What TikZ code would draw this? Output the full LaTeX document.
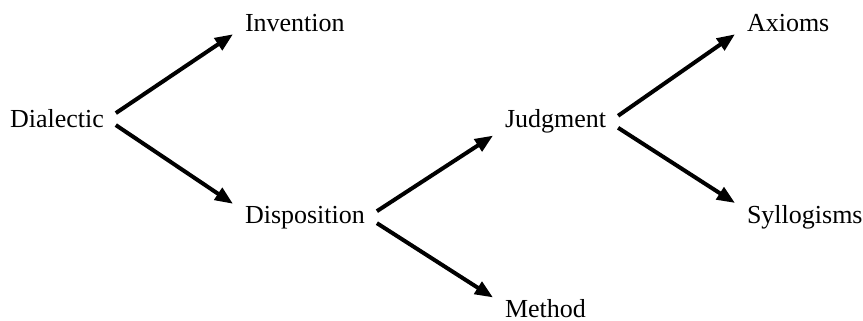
\documentclass[tikz,border=0pt]{standalone}
\usepackage{fontspec}
\setmainfont{Liberation Serif}
\usetikzlibrary{arrows.meta}

\begin{document}
\begin{tikzpicture}[
    x=1pt, y=-1pt,
    ->,
    >={Triangle[length=18pt,width=14pt]},
    line width=4pt
]

\tikzstyle{term}=[
    anchor=base west,
    inner xsep=10pt,
    inner ysep=0pt,
    font=\fontsize{26}{30}\selectfont
]

\useasboundingbox (0,0) rectangle (863,321);

\node[term] (dia) at (-2,128) {Dialectic};
\node[term] (inv) at (233,32) {Invention};
\node[term] (dis) at (233,223) {Disposition};

\node[term] (jud) at (493,128) {Judgment};
\node[term] (met) at (493,317.5) {Method};

\node[term] (axi) at (735,32) {Axioms};
\node[term] (syl) at (735,223) {Syllogisms};


\draw ([yshift=6pt]dia.east) -- (inv.south west);
\draw ([yshift=-6pt]dia.east) -- (dis.north west);
\draw ([yshift=6pt]dis.east) -- (jud.south west);
\draw ([yshift=-6pt]dis.east) -- (met.north west);
\draw ([yshift=6pt]jud.east) -- (axi.south west);
\draw ([yshift=-6pt]jud.east) -- (syl.north west);

\end{tikzpicture}
\end{document}
